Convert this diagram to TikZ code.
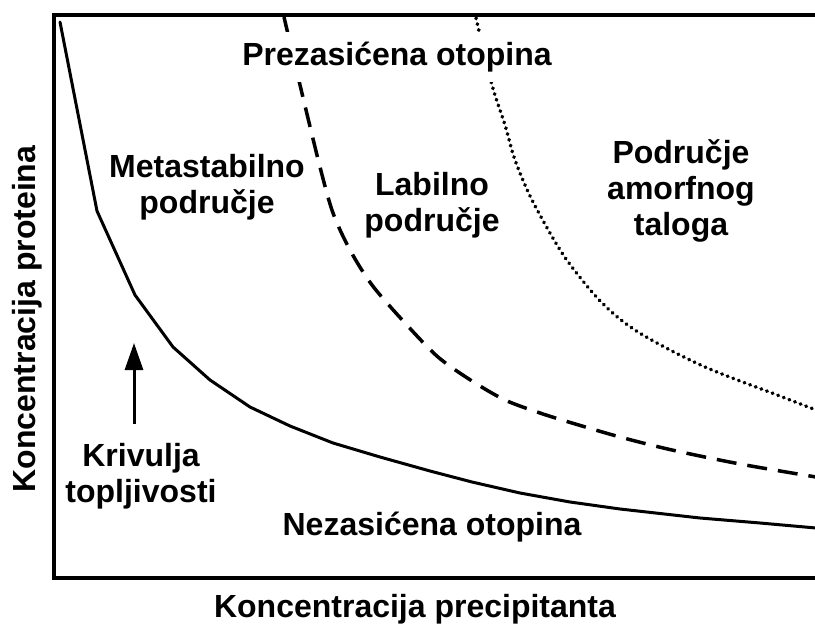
\documentclass[tikz,border=0pt]{standalone}
\usepackage{fontspec}
\setmainfont{Liberation Sans}
\usetikzlibrary{arrows.meta}
\tikzset{lbl/.style={font=\bfseries\fontsize{32}{36}\selectfont,align=center,inner sep=0pt}}
\begin{document}
\begin{tikzpicture}[>={Triangle[length=27pt,width=18pt]},x=1pt,y=-1pt]
\useasboundingbox (0,0) rectangle (815,624);
% krivulja topljivosti (puna linija)
\draw[line width=3pt,line join=round,line cap=round] plot coordinates {(60,22) (97,211) (135,295) (173,347) (210,380) (250,407) (290,426) (333,443) (380,457) (430,471) (472,482) (520,493) (570,502) (620,509) (700,518) (760,523) (816,528)};
% granica labilnog podrucja
\draw[line width=3.5pt,dash pattern=on 20pt off 11pt] plot[smooth] coordinates {(284,17) (300,85) (320,167) (333,213) (350,250) (372,285) (405,323) (438,357) (472,381) (505,400) (540,413) (572,423) (620,437) (672,450) (740,464) (816,477)};
% granica amorfnog taloga
\draw[line width=3.6pt,line cap=round,dash pattern=on 0.6pt off 5.4pt] plot[smooth] coordinates {(476,18) (492,85) (505,125) (515,160) (532,200) (562,253) (592,292) (615,315) (638,332) (670,350) (705,367) (740,381) (772,393) (816,410)};
% natpisi
\node[lbl,fill=white,inner xsep=6pt,inner ysep=10pt,anchor=base] (prez) at (397,65) {Prezasićena otopina};
\node[lbl] (meta) at (207,187) {Metastabilno\\područje};
\node[lbl] (labil) at (432,205) {Labilno\\područje};
\node[lbl] (amorf) at (681,191) {Područje\\amorfnog\\taloga};
\node[lbl] (kriv) at (141,476) {Krivulja\\topljivosti};
\node[lbl,anchor=base] (nez) at (432,535) {Nezasićena otopina};
\node[lbl,anchor=base] (xlab) at (415,617) {Koncentracija precipitanta};
\node[lbl,anchor=base,rotate=90] (ylab) at (35,319) {Koncentracija proteina};
% okvir (bez desne stranice)
\draw[line width=3.5pt] (816,15) -- (54,15) -- (54,578) -- (816,578);
% strelica prema krivulji
\coordinate (vrh) at (134,343);
\draw[->,line width=3pt] ([xshift=-7pt,yshift=19pt]kriv.north) -- (vrh);
\end{tikzpicture}
\end{document}
